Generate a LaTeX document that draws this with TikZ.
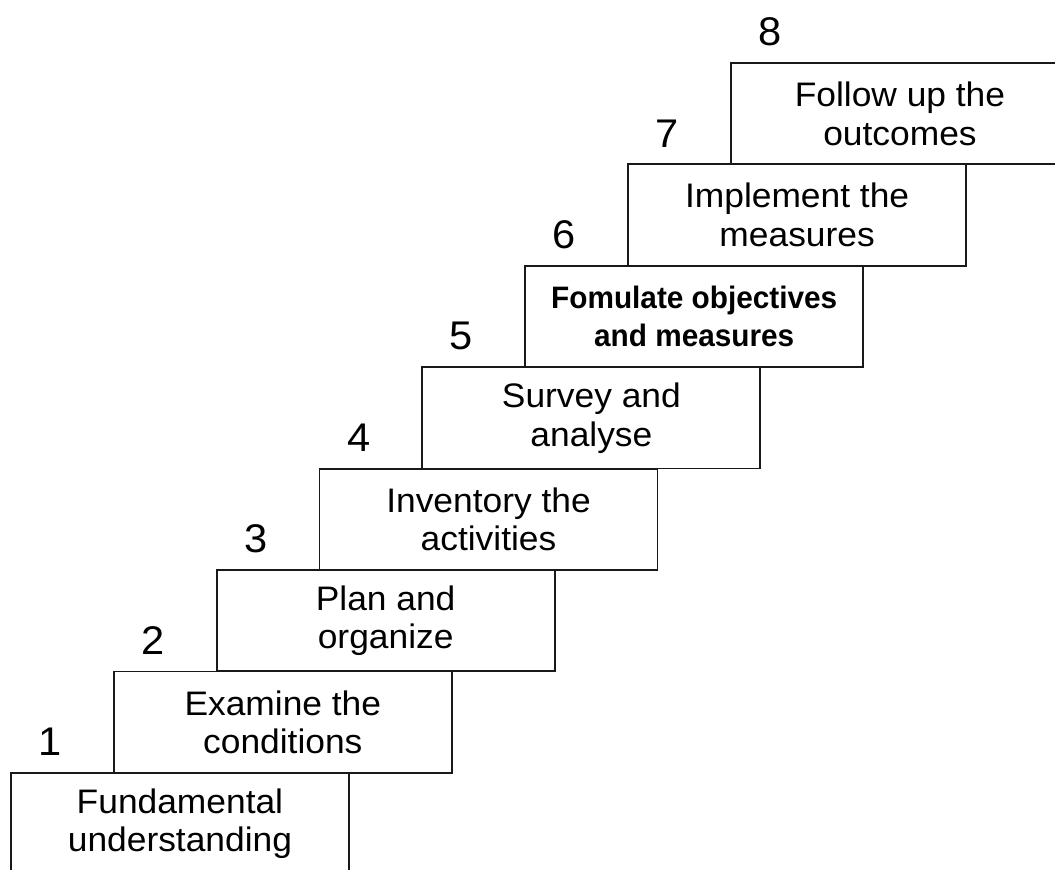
\documentclass[tikz,border=0pt]{standalone}
\usepackage{fontspec}
\setmainfont{Liberation Sans}
\newfontfamily\boxfont[FakeStretch=1.04]{Liberation Sans}
\newfontfamily\boxfontb[FakeStretch=0.96]{Liberation Sans}
\begin{document}
\begin{tikzpicture}[x=0.75pt,y=-0.75pt,
		stepbox/.style={draw=black!90,line width=1.4pt,minimum width=253.5pt,minimum height=76pt,
			inner sep=0pt,anchor=north west,align=center,font=\boxfont\fontsize{25.5pt}{29pt}\selectfont},
		stepboxb/.style={stepbox,font=\boxfontb\bfseries\fontsize{23.25pt}{29pt}\selectfont},
		stepnum/.style={inner sep=0pt,font=\boxfont\fontsize{30pt}{32pt}\selectfont}]
	\useasboundingbox (0,0) rectangle (1055,869);
	\clip (0,0) rectangle (1055,869);
	%
	\foreach \txt/\sty [count=\i] in {{Fundamental\\understanding}/stepbox,{Examine the\\conditions}/stepbox,
		{Plan and\\organize}/stepbox,{Inventory the\\activities}/stepbox,{Survey and\\analyse}/stepbox,
		{Fomulate objectives\\and measures}/stepboxb,
		{Implement the\\measures}/stepbox,{Follow up the\\outcomes}/stepbox}{
		\node[\sty] (s\i) at ({10+102.86*(\i-1)},{772-101.43*(\i-1)}) {\txt};
		\node[stepnum] (n\i) at ([xshift=30pt,yshift=22.5pt]s\i.north west) {\i};
	}
\end{tikzpicture}
\end{document}
